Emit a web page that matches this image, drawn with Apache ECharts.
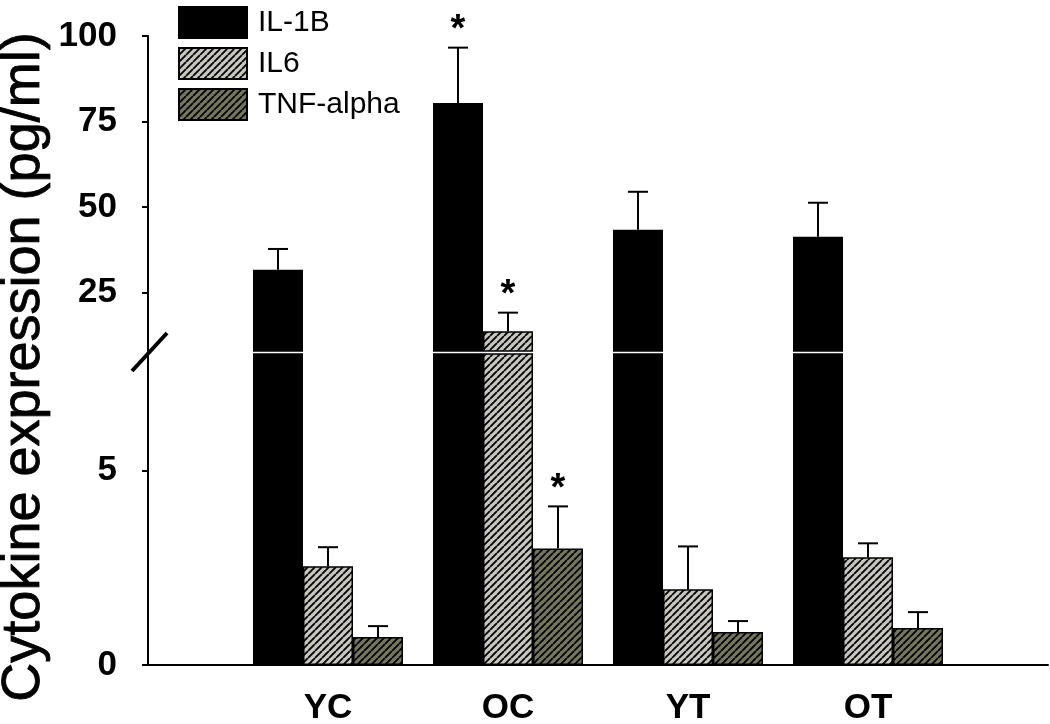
<!DOCTYPE html>
<html>
<head>
<meta charset="utf-8">
<script src="https://cdn.jsdelivr.net/npm/echarts@6/dist/echarts.min.js"></script>
<style>
html,body{margin:0;padding:0;background:#fff;}
#chart{width:1050px;height:724px;}
</style>
</head>
<body>
<div id="chart"></div>
<script>
// ---- data ----
const categories = ['YC', 'OC', 'YT', 'OT'];
const seriesNames = ['IL-1B', 'IL6', 'TNF-alpha'];
const il1b = [31.7, 80.4, 43.4, 41.4];
const il1bErr = [6.1, 16.2, 11.1, 9.9];
const il6 = [2.54, 13.75, 1.95, 2.77];
const il6Err = [0.49, 5.45, 1.1, 0.36];
const tnf = [0.72, 3.0, 0.85, 0.95];
const tnfErr = [0.28, 1.08, 0.28, 0.41];
const il1bSig = [0, 1, 0, 0];
const il6Sig = [0, 1, 0, 0];
const tnfSig = [0, 1, 0, 0];
const breakValue = 8;
const upperTicks = [25, 50, 75, 100];
const lowerTicks = [0, 5];

const means = [il1b, il6, tnf];
const errs = [il1bErr, il6Err, tnfErr];
const sigs = [il1bSig, il6Sig, tnfSig];

// ---- hatch patterns ----
function hatch(bg, period, lw) {
  const c = document.createElement('canvas');
  c.width = period; c.height = period;
  const g = c.getContext('2d');
  g.fillStyle = bg; g.fillRect(0, 0, period, period);
  g.strokeStyle = '#000'; g.lineWidth = lw;
  g.beginPath();
  for (let k = -1; k <= 1; k++) {
    g.moveTo(k * period, period);
    g.lineTo(k * period + period, 0);
  }
  g.stroke();
  return {image: c, repeat: 'repeat'};
}
const fills = ['#000000', hatch('#c6c6bd', 7, 1.8), hatch('#76765f', 7, 1.8)];

const FONT = "'Liberation Sans', Arial, sans-serif";
const barW = 50;

const grids = [
  {lo: breakValue, hi: 100},
  {lo: 0, hi: breakValue}
];

const series = [];
grids.forEach((gr, gi) => {
  means.forEach((arr, si) => {
    series.push({
      type: 'bar',
      name: seriesNames[si],
      xAxisIndex: gi, yAxisIndex: gi,
      barWidth: barW, barGap: '0%',
      clip: true,
      itemStyle: {color: fills[si], borderColor: '#000', borderWidth: 1.5},
      emphasis: {disabled: true},
      data: arr.map((v, i) => [i + 1, v])
    });
  });
  means.forEach((arr, si) => {
    series.push({
      type: 'custom',
      name: seriesNames[si] + ' err',
      xAxisIndex: gi, yAxisIndex: gi,
      clip: false,
      silent: true,
      z: 5,
      data: arr.map((v, i) => [i + 1, v, errs[si][i], sigs[si][i]]),
      renderItem: function (params, api) {
        const x = api.value(0), v = api.value(1), e = api.value(2), s = api.value(3);
        const t = v + e;
        if (t <= gr.lo || v >= gr.hi) return null;
        const off = (si - 1) * barW;
        const y0 = api.coord([x, Math.max(v, gr.lo)])[1];
        const y1 = api.coord([x, Math.min(t, gr.hi)])[1];
        const cx = api.coord([x, v])[0] + off;
        const children = [{
          type: 'line', shape: {x1: cx, y1: y0, x2: cx, y2: y1},
          style: {stroke: '#000', lineWidth: 2}
        }];
        if (t <= gr.hi) {
          children.push({
            type: 'line', shape: {x1: cx - 10, y1: y1, x2: cx + 10, y2: y1},
            style: {stroke: '#000', lineWidth: 2}
          });
          if (s) {
            children.push({
              type: 'text',
              style: {text: '*', x: cx, y: y1 + 2, textAlign: 'center', textVerticalAlign: 'bottom',
                font: 'bold 38px ' + FONT, fill: '#000'}
            });
          }
        }
        return {type: 'group', children: children};
      }
    });
  });
});

const chart = echarts.init(document.getElementById('chart'), null, {renderer: 'canvas'});
chart.setOption({
  animation: false,
  backgroundColor: '#fff',
  legend: {
    orient: 'vertical', left: 173, top: 1,
    itemWidth: 68, itemHeight: 31, itemGap: 8,
    icon: 'rect',
    data: seriesNames,
    selectedMode: false,
    itemStyle: {borderWidth: 2},
    textStyle: {fontFamily: FONT, fontSize: 30, color: '#000', padding: [0, 0, 0, 6]}
  },
  grid: [
    {left: 148, right: 2, top: 36, height: 315, containLabel: false, outerBoundsMode: 'none'},
    {left: 148, right: 2, top: 354, height: 311, containLabel: false, outerBoundsMode: 'none'}
  ],
  xAxis: [
    {type: 'value', gridIndex: 0, min: 0, max: 5, show: false},
    {type: 'value', gridIndex: 1, min: 0, max: 5,
      axisLine: {show: true, lineStyle: {color: '#000', width: 2}},
      axisTick: {show: false}, splitLine: {show: false},
      axisLabel: {
        customValues: [1, 2, 3, 4],
        formatter: v => categories[v - 1] || '',
        fontFamily: FONT, fontSize: 35, fontWeight: 'bold', color: '#000', margin: 26
      }
    }
  ],
  yAxis: [
    {type: 'value', gridIndex: 0, min: breakValue, max: 100,
      axisLine: {show: true, lineStyle: {color: '#000', width: 2}},
      axisTick: {show: true, customValues: upperTicks, length: 6, lineStyle: {color: '#000', width: 2}},
      splitLine: {show: false},
      axisLabel: {customValues: upperTicks, fontFamily: FONT, fontSize: 35, fontWeight: 'bold', color: '#000', margin: 31}
    },
    {type: 'value', gridIndex: 1, min: 0, max: breakValue,
      axisLine: {show: true, lineStyle: {color: '#000', width: 2}},
      axisTick: {show: true, customValues: lowerTicks, length: 6, lineStyle: {color: '#000', width: 2}},
      splitLine: {show: false},
      axisLabel: {customValues: lowerTicks, fontFamily: FONT, fontSize: 35, fontWeight: 'bold', color: '#000', margin: 31}
    }
  ],
  graphic: [
    {type: 'text', x: 24, y: 367, rotation: Math.PI / 2,
      style: {text: 'Cytokine expression (pg/ml)', textAlign: 'center', textVerticalAlign: 'middle',
        font: 'normal 54px ' + FONT, fill: '#000', stroke: '#000', lineWidth: 0.8}},
    {type: 'line', shape: {x1: 132, y1: 371, x2: 167, y2: 333},
      style: {stroke: '#000', lineWidth: 4}, z: 100}
  ],
  series: series
});
</script>
</body>
</html>
